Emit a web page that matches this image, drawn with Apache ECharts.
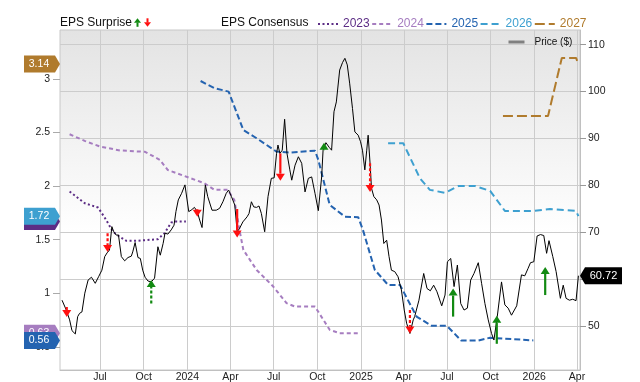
<!DOCTYPE html>
<html><head><meta charset="utf-8">
<script src="https://cdn.jsdelivr.net/npm/echarts@6/dist/echarts.min.js"></script>
<style>html,body{margin:0;padding:0;background:#fff}#c{width:640px;height:382px}</style>
</head><body><div id="c"></div>
<script>
// ---------- DATA ----------
const priceDates = ['2023-04-12','2023-04-21','2023-04-28','2023-05-03','2023-05-10','2023-05-15','2023-05-19','2023-05-24','2023-05-30','2023-06-06','2023-06-13','2023-06-21','2023-06-28','2023-07-05','2023-07-11','2023-07-16','2023-07-21','2023-07-26','2023-07-30','2023-08-04','2023-08-09','2023-08-15','2023-08-22','2023-08-29','2023-09-05','2023-09-08','2023-09-13','2023-09-19','2023-09-24','2023-09-29','2023-10-04','2023-10-10','2023-10-17','2023-10-24','2023-10-31','2023-11-05','2023-11-11','2023-11-15','2023-11-21','2023-11-28','2023-12-04','2023-12-08','2023-12-13','2023-12-20','2023-12-27','2024-01-04','2024-01-09','2024-01-16','2024-01-22','2024-01-27','2024-02-01','2024-02-08','2024-02-13','2024-02-22','2024-03-02','2024-03-09','2024-03-16','2024-03-23','2024-03-28','2024-04-03','2024-04-10','2024-04-15','2024-04-20','2024-04-27','2024-05-06','2024-05-10','2024-05-15','2024-05-20','2024-05-26','2024-05-31','2024-06-05','2024-06-12','2024-06-19','2024-06-26','2024-07-02','2024-07-07','2024-07-10','2024-07-14','2024-07-19','2024-07-24','2024-07-29','2024-08-04','2024-08-08','2024-08-15','2024-08-22','2024-08-29','2024-09-05','2024-09-12','2024-09-19','2024-09-26','2024-10-03','2024-10-10','2024-10-13','2024-10-19','2024-10-26','2024-10-31','2024-11-05','2024-11-10','2024-11-17','2024-11-23','2024-11-28','2024-12-03','2024-12-08','2024-12-14','2024-12-19','2024-12-26','2024-12-31','2025-01-04','2025-01-09','2025-01-13','2025-01-16','2025-01-20','2025-01-23','2025-01-28','2025-02-03','2025-02-08','2025-02-13','2025-02-18','2025-02-24','2025-03-01','2025-03-06','2025-03-13','2025-03-20','2025-03-27','2025-04-02','2025-04-07','2025-04-14','2025-04-21','2025-04-24','2025-05-03','2025-05-13','2025-05-20','2025-05-27','2025-06-03','2025-06-10','2025-06-20','2025-06-27','2025-07-02','2025-07-09','2025-07-16','2025-07-23','2025-07-30','2025-08-06','2025-08-13','2025-08-20','2025-08-27','2025-09-05','2025-09-12','2025-09-19','2025-09-26','2025-10-03','2025-10-08','2025-10-15','2025-10-24','2025-10-31','2025-11-07','2025-11-14','2025-11-25','2025-12-05','2025-12-12','2025-12-19','2025-12-24','2025-12-31','2026-01-07','2026-01-14','2026-01-21','2026-01-27','2026-02-01','2026-02-09','2026-02-16','2026-02-20','2026-02-25','2026-03-03','2026-03-09','2026-03-16','2026-03-23','2026-03-30','2026-04-04'];
const priceValues = [55.5,53.4,51.3,49.0,48.3,52.0,52.7,53.0,57.0,59.8,60.4,59.1,60.5,61.9,64.8,65.6,66.2,71.2,70.1,69.4,69.4,64.8,63.9,64.6,64.9,65.8,67.8,64.6,64.4,61.9,60.4,59.6,59.4,60.2,66.9,65.1,67.6,69.8,69.6,70.5,71.5,74.4,76.9,78.3,80.1,74.4,74.7,75.3,74.4,72.6,71.0,80.1,77.6,74.7,74.7,75.1,76.5,78.3,79.0,77.6,75.8,70.1,70.8,72.2,73.3,74.0,76.5,75.4,75.3,75.6,74.0,70.1,77.6,81.5,81.6,86.8,88.6,86.8,87.5,94.1,86.8,83.3,81.1,84.3,86.1,84.7,78.6,81.5,81.8,78.3,74.6,81.8,87.5,89.1,88.1,87.5,95.7,97.8,104.6,106.2,107.1,105.7,101.8,96.4,91.4,90.7,89.3,87.5,83.3,87.5,90.7,84.7,79.4,77.6,76.9,75.8,72.6,67.6,68.3,64.8,61.9,61.6,60.5,57.7,53.4,50.6,48.4,51.3,52.0,55.5,61.2,58.0,57.5,58.7,57.3,54.3,56.6,63.7,64.4,58.4,63.0,54.8,53.4,53.8,59.8,61.2,63.5,59.1,54.8,51.3,48.4,47.0,52.0,59.4,54.5,53.8,52.3,54.3,60.9,60.7,62.3,63.5,63.7,69.2,69.5,69.3,65.5,68.2,64.8,61.6,61.9,55.9,58.7,55.9,55.5,55.7,55.4,60.72];

const eps2023Dates = ['2023-04-28','2023-05-30','2023-06-27','2023-07-14','2023-07-28','2023-08-11','2023-08-25','2023-09-19','2023-10-31','2023-11-14','2023-11-28','2023-12-08','2023-12-29'];
const eps2023 = [1.95,1.84,1.80,1.685,1.576,1.529,1.49,1.49,1.505,1.56,1.66,1.67,1.67];
const eps2024Dates = ['2023-04-28','2023-05-31','2023-07-01','2023-08-12','2023-10-04','2023-11-04','2023-11-21','2024-01-06','2024-02-06','2024-02-27','2024-03-26','2024-04-09','2024-04-21','2024-04-28','2024-05-26','2024-06-30','2024-07-28','2024-08-15','2024-09-26','2024-10-27','2024-11-17','2024-12-30'];
const eps2024 = [2.484,2.42,2.37,2.333,2.32,2.245,2.15,2.077,2.027,1.965,1.965,1.871,1.566,1.405,1.218,1.063,0.908,0.876,0.876,0.659,0.628,0.628];
const eps2025Dates = ['2024-01-29','2024-02-26','2024-03-28','2024-04-28','2024-05-26','2024-07-07','2024-08-04','2024-09-26','2024-10-03','2024-10-27','2024-11-28','2024-12-26','2025-01-05','2025-01-30','2025-02-27','2025-03-24','2025-04-28','2025-05-30','2025-07-01','2025-07-31','2025-09-05','2025-09-30','2025-12-30'];
const eps2025 = [2.981,2.916,2.882,2.524,2.447,2.322,2.313,2.331,2.244,1.825,1.715,1.71,1.591,1.218,1.078,1.078,0.783,0.696,0.696,0.559,0.559,0.585,0.56];
const eps2026Dates = ['2025-02-27','2025-03-31','2025-05-05','2025-05-26','2025-06-27','2025-07-25','2025-08-30','2025-09-30','2025-10-31','2026-01-02','2026-02-03','2026-03-30','2026-04-04'];
const eps2026 = [2.40,2.40,2.074,1.965,1.937,2.00,2.00,1.955,1.769,1.769,1.787,1.769,1.72];
const eps2027Dates = ['2025-10-27','2026-01-30','2026-02-28','2026-03-30','2026-04-04'];
const eps2027 = [2.655,2.655,3.196,3.196,3.14];

const surpriseDates = ['2023-04-22','2023-07-17','2023-10-17','2024-01-22','2024-04-15','2024-07-15','2024-10-15','2025-01-20','2025-04-14','2025-07-14','2025-10-14','2026-01-24'];
const surpriseFrom = [54.05,69.8,54.8,74.95,74.95,86.8,87.5,84.7,53.4,52.0,46.2,56.6];
const surpriseTo = [51.9,65.8,59.8,73.3,68.9,81.0,89.1,78.6,48.4,58.0,52.2,62.6];
const surpriseDashed = [0,1,1,0,0,0,0,1,1,0,0,0];

const xTickDates = ['2023-07-01','2023-10-01','2024-01-01','2024-04-01','2024-07-01','2024-10-01','2025-01-01','2025-04-01','2025-07-01','2025-10-01','2026-01-01','2026-04-01'];
const epsTicks = [0.5,1,1.5,2,2.5,3];
const priceTicks = [50,60,70,80,90,100,110];
const monthNames = ['Jan','Feb','Mar','Apr','May','Jun','Jul','Aug','Sep','Oct','Nov','Dec'];

// ---------- BUILD ----------
function toTs(s){ const p = s.split('-').map(Number); return new Date(p[0], p[1]-1, p[2]).getTime(); }
const xMin = new Date(2023,3,7,18).getTime();
const xMax = new Date(2026,3,7,8).getTime();
const FONT = '"Liberation Sans", Arial, sans-serif';

const consensus = [
  {name:'2023', d:eps2023Dates, v:eps2023, color:'#5c2d85', dash:[2,2.5]},
  {name:'2024', d:eps2024Dates, v:eps2024, color:'#a67dc0', dash:[4,3]},
  {name:'2025', d:eps2025Dates, v:eps2025, color:'#2463b0', dash:[6,3]},
  {name:'2026', d:eps2026Dates, v:eps2026, color:'#3ea0d0', dash:[7,4]},
  {name:'2027', d:eps2027Dates, v:eps2027, color:'#b07b2d', dash:[10,4]}
];

const lineSeries = consensus.map(c => ({
  name: c.name, type:'line', yAxisIndex:0, symbol:'none', showSymbol:false, z:2,
  data: c.d.map((d,i)=>[toTs(d), c.v[i]]),
  lineStyle:{color:c.color, width:2, type:c.dash, cap:'butt'},
  itemStyle:{color:c.color}
}));

const badgeOrder = [0,1,4,3,2];
const badgeData = badgeOrder.map(i => [xMin, consensus[i].v[consensus[i].v.length-1], i]);

const chart = echarts.init(document.getElementById('c'), null, {renderer:'canvas'});
chart.setOption({
  animation:false,
  textStyle:{fontFamily:FONT},
  grid:{left:60, right:60, top:30, bottom:12, outerBoundsMode:'none', containLabel:false, show:true, borderColor:'#c8c8c8', borderWidth:1,
    backgroundColor:{type:'linear', x:0, y:0, x2:0, y2:1, colorStops:[{offset:0,color:'#e3e3e3'},{offset:0.6,color:'#ffffff'},{offset:1,color:'#ffffff'}]}},
  legend:[
    {data: consensus.map(c=>({name:c.name, textStyle:{color:c.color}})), left:317, top:18, padding:0, itemWidth:20, itemHeight:10, itemGap:1.5,
      itemStyle:{opacity:0}, textStyle:{fontSize:12, fontFamily:FONT}, selectedMode:false},
    {data:[{name:'Price ($)', lineStyle:{color:'#808080', width:3}}], left:507, top:37, padding:0, itemWidth:16, itemHeight:10,
      itemStyle:{opacity:0}, textStyle:{fontSize:10, fontFamily:FONT, color:'#111', padding:[0,0,0,5]}, selectedMode:false}
  ],
  graphic:[
    {type:'text', x:60, y:23, style:{text:'EPS Surprise', font:'12px '+FONT, fill:'#111', verticalAlign:'middle'}},
    {type:'polygon', shape:{points:[[137.5,18.3],[134,22.7],[141,22.7]]}, style:{fill:'#128a12'}},
    {type:'rect', shape:{x:136.5, y:22.5, width:2, height:4.3}, style:{fill:'#128a12'}},
    {type:'rect', shape:{x:146.5, y:18.3, width:2, height:4.3}, style:{fill:'#ff1010'}},
    {type:'polygon', shape:{points:[[147.5,26.7],[144,22.3],[151,22.3]]}, style:{fill:'#ff1010'}},
    {type:'text', x:221, y:23, style:{text:'EPS Consensus', font:'12px '+FONT, fill:'#111', verticalAlign:'middle'}}
  ],
  xAxis:{type:'value', min:xMin, max:xMax,
    axisLine:{show:true, lineStyle:{color:'#c0c0c0'}},
    axisTick:{show:false, customValues: xTickDates.map(toTs)},
    axisLabel:{customValues: xTickDates.map(toTs), fontSize:10.5, color:'#222', margin:2, hideOverlap:false,
      formatter: v => { const d = new Date(v); return d.getMonth()===0 ? String(d.getFullYear()) : monthNames[d.getMonth()]; }},
    splitLine:{show:true, lineStyle:{color:'#cccccc', width:1}}
  },
  yAxis:[
    {type:'value', position:'left', min:0.284, max:3.457,
      axisLine:{show:false},
      axisTick:{show:true, length:7, lineStyle:{color:'#aaaaaa'}, customValues:epsTicks},
      axisLabel:{customValues:epsTicks, fontSize:10.5, color:'#222', margin:10, formatter: v => String(v)},
      splitLine:{show:false}},
    {type:'value', position:'right', min:40.61, max:113.14,
      axisLine:{show:true, lineStyle:{color:'#c0c0c0'}},
      axisTick:{show:true, length:6, lineStyle:{color:'#999999'}, customValues:priceTicks},
      axisLabel:{customValues:priceTicks, fontSize:10.5, color:'#222', margin:8},
      splitLine:{show:true, lineStyle:{color:'#cccccc', width:1}}}
  ],
  series:[
    ...lineSeries,
    {name:'Price ($)', type:'line', yAxisIndex:1, symbol:'none', showSymbol:false, z:3,
      data: priceDates.map((d,i)=>[toTs(d), priceValues[i]]),
      lineStyle:{color:'#000', width:1}, itemStyle:{color:'#000'}},
    {name:'surprise', type:'custom', yAxisIndex:1, z:5, silent:true,
      data: surpriseDates.map((d,i)=>[toTs(d), surpriseFrom[i], surpriseTo[i], surpriseDashed[i]]),
      encode:{x:0, y:[1,2]},
      renderItem:(params, api)=>{
        const x = api.value(0), a = api.value(1), b = api.value(2), dashed = api.value(3);
        const p1 = api.coord([x,a]), p2 = api.coord([x,b]);
        const up = b > a; const color = up ? '#128a12' : '#ff1010';
        const dir = up ? -1 : 1; const hl = 7, hw = 4.5;
        const baseY = p2[1] - dir*hl;
        const ch = [];
        if ((p2[1]-p1[1])*dir > hl) ch.push({type:'line', shape:{x1:p1[0],y1:p1[1],x2:p2[0],y2:baseY},
          style:{stroke:color, lineWidth:2.2, lineDash: dashed ? [3,2] : null}});
        ch.push({type:'polygon', shape:{points:[[p2[0],p2[1]],[p2[0]-hw,baseY],[p2[0]+hw,baseY]]}, style:{fill:color}});
        return {type:'group', children:ch};
      }},
    {name:'epsBadges', type:'custom', yAxisIndex:0, z:10, silent:true, clip:false,
      data: badgeData, encode:{x:0, y:1},
      renderItem:(params, api)=>{
        const v = api.value(1), idx = api.value(2);
        const y = api.coord([xMin, v])[1]; const x0 = params.coordSys.x;
        const c = consensus[idx].color;
        return {type:'group', children:[
          {type:'polygon', shape:{points:[[x0,y],[x0-5,y-8.5],[x0-36,y-8.5],[x0-36,y+8.5],[x0-5,y+8.5]]}, style:{fill:c}},
          {type:'text', style:{text:v.toFixed(2), x:x0-21, y:y, align:'center', verticalAlign:'middle', fill:'#fff', font:'10.5px '+FONT}}
        ]};
      }},
    {name:'priceBadge', type:'custom', yAxisIndex:1, z:10, silent:true, clip:false,
      data: [[xMax, priceValues[priceValues.length-1]]], encode:{x:0, y:1},
      renderItem:(params, api)=>{
        const v = api.value(1);
        const y = api.coord([xMax, v])[1]; const x0 = params.coordSys.x + params.coordSys.width;
        return {type:'group', children:[
          {type:'polygon', shape:{points:[[x0,y],[x0+5,y-8.5],[x0+42,y-8.5],[x0+42,y+8.5],[x0+5,y+8.5]]}, style:{fill:'#000'}},
          {type:'text', style:{text:v.toFixed(2), x:x0+23.5, y:y, align:'center', verticalAlign:'middle', fill:'#fff', font:'11px '+FONT}}
        ]};
      }}
  ]
});
</script></body></html>
